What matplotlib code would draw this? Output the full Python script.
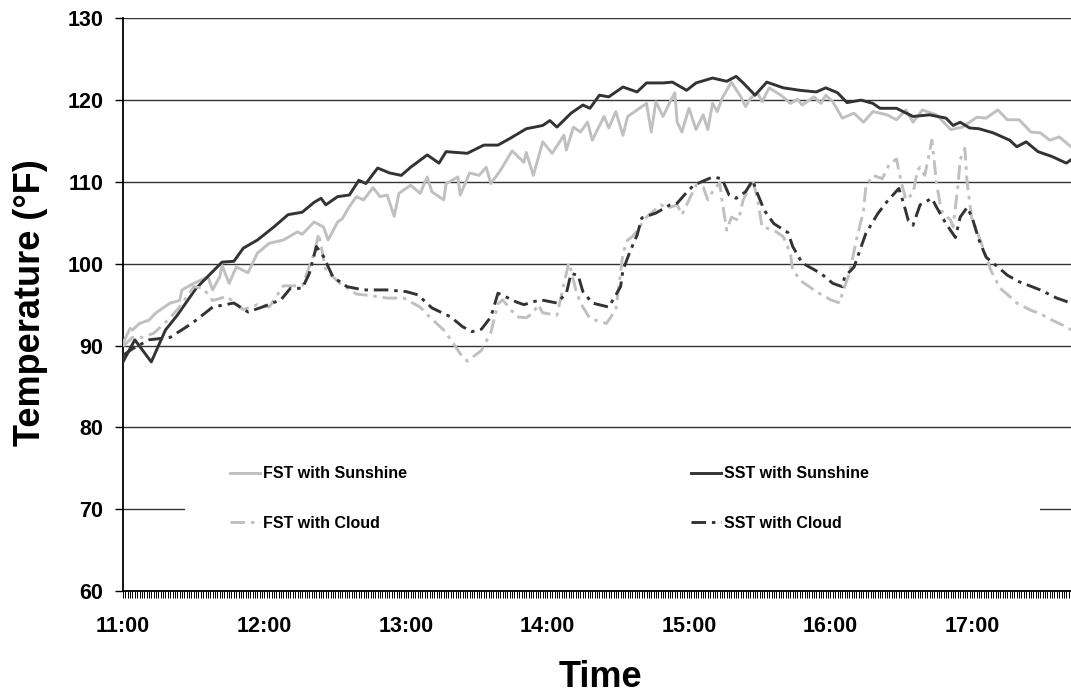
import matplotlib.pyplot as plt
from matplotlib.patches import Rectangle

# minutes after 11:00 and temperatures (deg F)
sst_sun_min = [0, 5, 12, 18, 23, 31, 42, 47, 51, 57, 64, 70, 76, 81, 84, 86, 91, 96, 100, 103,
               108, 113, 118, 122, 129, 134, 137, 146, 153, 159, 164, 171, 178, 181, 184, 190,
               195, 198, 202, 206, 212, 218, 222, 229, 233, 239, 243, 250, 256, 260, 263, 268,
               273, 280, 287, 294, 298, 303, 307, 313, 318, 321, 328, 335, 342, 349, 352, 355,
               359, 363, 369, 376, 379, 383, 388, 394, 400, 402]
sst_sun = [88.0, 90.7, 88.0, 91.9, 93.7, 97.0, 100.2, 100.3, 101.9, 102.9, 104.5, 106.0, 106.3,
           107.5, 108.0, 107.2, 108.2, 108.4, 110.2, 109.8, 111.7, 111.1, 110.8, 111.8, 113.3,
           112.3, 113.7, 113.5, 114.5, 114.5, 115.3, 116.5, 116.9, 117.5, 116.7, 118.4, 119.4,
           119.0, 120.6, 120.4, 121.6, 121.0, 122.1, 122.1, 122.2, 121.2, 122.1, 122.7, 122.3,
           122.9, 122.1, 120.6, 122.2, 121.5, 121.2, 121.0, 121.5, 120.9, 119.7, 120.0, 119.6,
           119.0, 119.0, 118.0, 118.2, 117.8, 116.9, 117.3, 116.6, 116.5, 116.0, 115.1, 114.3,
           114.9, 113.7, 113.1, 112.3, 112.7]

fst_sun_min = [0, 3, 4, 7, 11, 14, 20, 24, 25, 30, 33, 36, 38, 41, 42, 45, 48, 53, 57, 62, 68,
               74, 76, 81, 85, 87, 91, 93, 96, 99, 102, 106, 109, 112, 115, 117, 122, 126, 129,
               131, 136, 137, 142, 143, 147, 151, 154, 156, 160, 165, 170, 171, 174, 178, 182,
               187, 188, 191, 194, 197, 199, 204, 206, 209, 212, 214, 218, 222, 224, 226, 229,
               232, 234, 235, 237, 240, 243, 246, 248, 250, 252, 254, 258, 262, 264, 266, 269,
               271, 274, 279, 283, 286, 288, 293, 296, 298, 301, 305, 310, 314, 318, 324, 328,
               332, 335, 339, 345, 351, 356, 362, 366, 371, 375, 380, 385, 389, 393, 397, 402]
fst_sun = [90.3, 92.1, 91.9, 92.7, 93.1, 94.0, 95.2, 95.5, 96.8, 97.6, 98.0, 98.4, 96.8, 98.4,
           99.8, 97.6, 99.6, 98.9, 101.3, 102.5, 102.9, 103.9, 103.6, 105.1, 104.5, 102.9,
           105.1, 105.5, 107.0, 108.2, 107.8, 109.3, 108.2, 108.4, 105.8, 108.6, 109.6, 108.6,
           110.6, 108.8, 107.8, 109.8, 110.6, 108.4, 111.1, 110.8, 111.8, 109.8, 111.4, 113.8,
           112.4, 113.6, 110.8, 114.9, 113.5, 115.7, 113.9, 116.7, 116.1, 117.3, 115.1, 118.0,
           116.6, 118.6, 115.7, 118.0, 118.8, 119.6, 116.1, 119.8, 118.0, 119.8, 120.9, 117.3,
           116.1, 119.0, 116.4, 118.2, 116.4, 119.6, 118.6, 120.2, 122.2, 120.4, 119.2, 120.2,
           120.9, 119.8, 121.5, 120.6, 119.6, 120.1, 119.4, 120.4, 119.6, 120.6, 119.8, 117.8,
           118.4, 117.3, 118.6, 118.2, 117.6, 118.8, 117.3, 118.8, 118.2, 116.4, 116.7, 117.9,
           117.8, 118.8, 117.6, 117.6, 116.1, 116.0, 115.1, 115.5, 114.3]

fst_cloud_min = [0, 4, 8, 13, 19, 24, 30, 34, 38, 44, 51, 57, 62, 68, 76, 81, 83, 86, 92, 99,
                 105, 112, 119, 126, 130, 136, 140, 143, 146, 152, 156, 159, 161, 167, 171, 174,
                 176, 178, 184, 189, 190, 192, 194, 198, 205, 209, 211, 212, 214, 216, 218, 222,
                 228, 231, 235, 237, 240, 243, 246, 248, 250, 253, 254, 256, 258, 261, 263, 267,
                 269, 271, 276, 280, 283, 284, 288, 294, 300, 304, 305, 308, 311, 314, 315, 318,
                 322, 325, 328, 330, 332, 335, 337, 338, 340, 343, 345, 347, 351, 352, 354, 355,
                 357, 358, 360, 362, 365, 368, 372, 376, 379, 385, 389, 394, 400, 402]
fst_cloud = [89.9, 91.0, 91.0, 91.5, 93.1, 94.7, 97.2, 97.0, 95.5, 96.0, 94.4, 95.0, 94.7, 97.3,
             97.3, 101.2, 103.7, 99.2, 97.6, 96.3, 96.1, 95.8, 95.8, 94.7, 93.5, 91.9, 90.3,
             89.0, 88.1, 89.4, 91.6, 95.1, 95.6, 93.5, 93.4, 94.0, 95.0, 94.0, 93.7, 100.1, 99.2,
             96.8, 95.2, 93.3, 92.7, 94.4, 98.9, 101.3, 102.9, 103.3, 104.1, 105.7, 107.2, 106.8,
             107.2, 106.0, 107.8, 109.6, 109.4, 107.8, 108.8, 109.9, 107.8, 104.1, 105.7, 105.3,
             107.8, 110.2, 108.0, 104.5, 104.1, 103.3, 101.3, 99.2, 97.8, 96.6, 95.6, 95.2, 96.4,
             98.8, 102.9, 106.5, 109.4, 110.8, 110.4, 112.2, 112.8, 110.0, 107.8, 108.6, 111.5,
             111.8, 110.8, 115.1, 109.8, 106.5, 105.3, 104.5, 109.4, 112.7, 114.1, 109.8, 105.3,
             104.1, 101.7, 99.2, 97.0, 96.0, 95.2, 94.3, 93.9, 93.1, 92.3, 91.9]

sst_cloud_min = [0, 4, 11, 20, 27, 31, 38, 47, 53, 59, 67, 71, 76, 79, 82, 85, 89, 95, 102, 112,
                 120, 125, 131, 139, 144, 148, 152, 156, 159, 162, 167, 170, 177, 184, 188, 190,
                 193, 195, 199, 206, 211, 212, 215, 218, 220, 226, 232, 235, 238, 242, 250, 254,
                 257, 260, 264, 267, 269, 272, 276, 282, 284, 288, 296, 301, 305, 306, 310, 315,
                 320, 324, 329, 331, 333, 335, 338, 343, 345, 349, 353, 355, 358, 360, 363, 366,
                 371, 375, 380, 389, 396, 402]
sst_cloud = [88.8, 89.6, 90.7, 91.0, 92.3, 93.1, 94.7, 95.2, 94.1, 94.7, 95.6, 97.0, 97.0, 98.8,
             102.1, 100.9, 98.4, 97.2, 96.8, 96.8, 96.6, 96.2, 94.6, 93.5, 92.3, 91.7, 92.0,
             93.5, 96.4, 96.0, 95.3, 95.0, 95.6, 95.2, 96.4, 98.8, 98.6, 96.6, 95.2, 94.7, 97.2,
             99.2, 101.5, 103.5, 105.6, 106.2, 107.2, 107.4, 108.4, 109.6, 110.6, 110.4, 108.4,
             108.0, 108.8, 110.2, 108.6, 106.5, 104.9, 103.8, 102.1, 100.1, 98.8, 97.6, 97.2,
             98.4, 99.6, 103.7, 106.1, 107.6, 109.2, 107.4, 105.3, 104.7, 107.2, 108.0, 106.9,
             104.9, 103.2, 105.7, 106.9, 105.7, 102.9, 100.8, 99.6, 98.6, 97.8, 96.8, 95.8, 95.2]

hour_ticks = [0, 60, 120, 180, 240, 300, 360]
hour_labels = ['11:00', '12:00', '13:00', '14:00', '15:00', '16:00', '17:00']
y_ticks = [60, 70, 80, 90, 100, 110, 120, 130]

light = '#c0c0c0'
dark = '#333333'
dashdot = [5, 2, 1.2, 2]

plt.rcParams['font.family'] = ['Liberation Sans', 'DejaVu Sans']
plt.rcParams['font.weight'] = 'bold'

fig = plt.figure(figsize=(10.71, 6.94), dpi=100)
ax = fig.add_axes([123 / 1071, 1 - 591 / 694, (1071 - 123) / 1071, (591 - 18.3) / 694])

l1, = ax.plot(fst_sun_min, fst_sun, color=light, lw=2.1, label='FST with Sunshine', zorder=3)
l2, = ax.plot(sst_sun_min, sst_sun, color=dark, lw=2.1, label='SST with Sunshine', zorder=3)
l3, = ax.plot(fst_cloud_min, fst_cloud, color=light, lw=2.1, dashes=dashdot,
              label='FST with Cloud', zorder=3)
l4, = ax.plot(sst_cloud_min, sst_cloud, color=dark, lw=2.1, dashes=dashdot,
              label='SST with Cloud', zorder=3)

ax.set_xlim(0, 402)
ax.set_ylim(60, 130)
ax.set_xticks(hour_ticks)
ax.set_xticklabels(hour_labels)
ax.set_xticks(range(0, 403), minor=True)
ax.set_yticks(y_ticks)

ax.tick_params(axis='x', which='both', direction='out', length=5, width=0.7, color='black',
               labelsize=15.5, pad=13)
ax.tick_params(axis='y', direction='out', length=5.8, width=1, color='black',
               labelsize=15.5, pad=8.5)
for lab in ax.get_xticklabels() + ax.get_yticklabels():
    lab.set_fontweight('bold')

ax.set_axisbelow(True)
ax.grid(axis='y', color='#333333', lw=1)
ax.spines['top'].set_visible(False)
ax.spines['right'].set_visible(False)
ax.spines['left'].set_linewidth(1.3)
ax.spines['bottom'].set_linewidth(1.3)

# white legend area hides the 70 gridline
ax.add_patch(Rectangle((62 / 948, 0.075), (1040 - 185) / 948, 0.175, transform=ax.transAxes,
                       facecolor='white', edgecolor='none', zorder=1))

leg = fig.legend(handles=[l1, l3, l2, l4], ncol=2, loc='center left',
                 bbox_to_anchor=(230 / 1071, 1 - 498.5 / 694), frameon=False,
                 prop={'weight': 'bold', 'size': 11.5},
                 handlelength=1.88, handletextpad=0.19, columnspacing=17.8,
                 labelspacing=2.15, borderpad=0, borderaxespad=0)

fig.text(30.5 / 1071, 1 - 303 / 694, 'Temperature (°F)', rotation=90, ha='center',
         va='center', fontsize=26, fontweight='bold')
fig.text(600 / 1071, 1 - 687 / 694, 'Time', ha='center', va='baseline', fontsize=26,
         fontweight='bold')

fig.savefig('out.png', dpi=100)
